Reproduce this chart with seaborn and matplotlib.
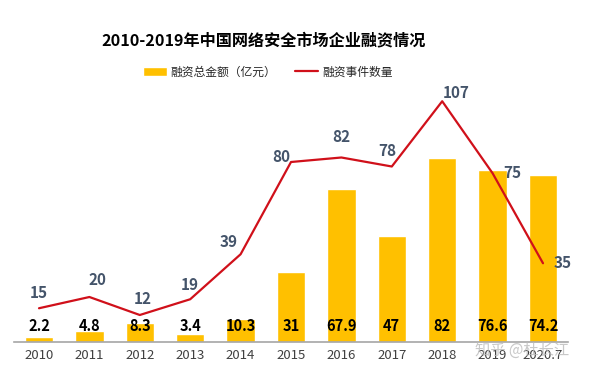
import seaborn as sns
from matplotlib import pyplot as plt
import pandas as pd

# data
years = ['2010', '2011', '2012', '2013', '2014', '2015', '2016', '2017', '2018', '2019', '2020.7']
amount = [2.2, 4.8, 8.3, 3.4, 10.3, 31, 67.9, 47, 82, 76.6, 74.2]   # 亿元
events = [15, 20, 12, 19, 39, 80, 82, 78, 107, 75, 35]

# label offsets for the line (pixels)
offsets = [(0, 15), (8, 17), (3, 16), (0, 14), (-12, 12), (-10, 5),
           (0, 20), (-4, 15), (14, 8), (20, 0), (20, 0)]

sns.set_theme(style='white')
plt.rcParams['font.family'] = ['Noto Sans CJK SC', 'DejaVu Sans']

df = pd.DataFrame({'year': years, 'amount': amount, 'events': events,
                   'idx': range(len(years))})

fig = plt.figure(figsize=(6, 3.75), dpi=100)
ax = fig.add_axes([0.023, 0.088, 0.924, 0.72])

sns.barplot(data=df, x='year', y='amount', color='#FFC000', saturation=1,
            width=0.56, ax=ax, label='融资总金额（亿元）')
sns.lineplot(data=df, x='idx', y='events', color='#D0101A', linewidth=1.6,
             ax=ax, label='融资事件数量')

for i, v in enumerate(amount):
    ax.text(i, 7, f'{v:g}', ha='center', va='center', fontsize=10.5,
            fontweight='bold', color='black')

for i, v in enumerate(events):
    dx, dy = offsets[i]
    ax.annotate(str(v), (i, v), xytext=(dx, dy), textcoords='offset pixels',
                ha='center', va='center', fontsize=11, fontweight='bold',
                color='#44546A')

ax.set_xlim(-0.5, len(years) - 0.5)
ax.set_ylim(0, 120)
ax.set_xlabel('')
ax.set_ylabel('')
ax.set_yticks([])
sns.despine(ax=ax, left=True, top=True, right=True)
ax.spines['bottom'].set_color('#A6A6A6')
ax.spines['bottom'].set_linewidth(1.2)
ax.tick_params(axis='x', length=0, labelsize=9.5, colors='#404040', pad=5)

handles, labels = ax.get_legend_handles_labels()
order = [labels.index('融资总金额（亿元）'), labels.index('融资事件数量')]
ax.legend([handles[k] for k in order], [labels[k] for k in order],
          loc='center', bbox_to_anchor=(0.458, 1.0), ncol=2, frameon=False,
          fontsize=8.5, handlelength=2.0, columnspacing=1.6, handletextpad=0.3)

fig.text(0.44, 0.893, '2010-2019年中国网络安全市场企业融资情况', ha='center',
         va='center', fontsize=11.6, fontweight='bold', color='black')
fig.text(0.87, 0.065, '知乎 @杜长江', ha='center', va='center', fontsize=11,
         color='#BBBBBB', alpha=0.8)

plt.savefig('out.png', dpi=100)
